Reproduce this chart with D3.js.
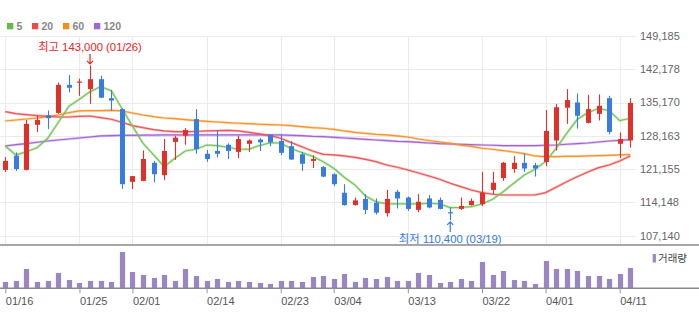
<!DOCTYPE html>
<html><head><meta charset="utf-8">
<script src="https://cdn.jsdelivr.net/npm/d3@7"></script>
<style>
html,body{margin:0;padding:0;background:#fff;}
svg{display:block;}
</style></head>
<body>
<svg id="c" width="699" height="329"></svg>
<script>
const dates = ["01/16","01/17","01/18","01/19","01/22","01/23","01/24","01/25","01/26","01/29","01/30","01/31",
"02/01","02/02","02/05","02/06","02/07","02/08","02/13","02/14","02/15","02/16","02/19","02/20","02/21","02/22","02/23","02/26","02/27","02/28","02/29",
"03/04","03/05","03/06","03/07","03/08","03/11","03/12","03/13","03/14","03/15","03/18","03/19","03/20","03/21","03/22","03/25","03/26","03/27","03/28","03/29",
"04/01","04/02","04/03","04/04","04/05","04/08","04/09","04/11","04/12"];
const open  = [121000,124000,121000,130500,132500,133000,138900,139400,138000,140100,136100,133800,118500,118700,122500,119900,126900,128200,131700,124400,125000,126300,124800,126500,127400,128400,127100,126000,124300,122900,121600,120100,116200,113600,114900,114100,111900,116400,115200,112600,115000,114700,112100,112800,113600,113800,116800,119300,121200,122500,122000,122700,127200,134100,135200,130900,132800,136100,126500,127200];
const high  = [123700,124700,131500,132500,133500,139400,141000,140200,143000,140800,137800,134000,119700,125100,122900,127500,128200,129800,133800,125200,129400,126600,128200,127400,127700,128500,128500,127100,124800,124100,121800,120300,118000,115200,115900,115000,116800,116800,115400,115900,115700,115200,113100,115200,115000,120600,120600,122700,123900,124400,122500,133600,134900,138000,137100,136800,136900,136600,128900,136100];
const low   = [120600,120800,120900,129000,129600,132800,137300,136600,134900,136100,133500,117000,117000,118600,118400,118900,123100,126300,124400,122700,123600,123300,123500,124800,125000,126000,124100,123100,120800,121400,119500,117600,113500,113500,111700,111600,111200,112900,112400,112100,112900,112700,110400,112600,113500,113400,115900,118700,120400,120600,119600,121800,125100,130700,129700,130800,131400,128500,123500,125700];
const close = [122900,121200,130700,131500,131900,138900,138300,139600,140100,136200,135600,118000,119700,123300,120100,125000,127800,129400,125400,123300,124400,125000,127500,127200,126800,126800,124600,123200,122300,123300,119600,118000,113600,114600,112600,112000,114900,115000,112800,114300,113100,112800,112000,113400,114500,116200,118300,122500,122500,121300,121300,129200,134200,135700,132400,133800,134500,129000,127500,135100];
const volume = [190,220,580,190,220,460,250,160,220,220,190,1090,490,400,310,400,220,580,370,220,280,190,220,190,160,130,220,220,190,340,370,280,430,190,310,280,340,220,220,460,400,160,190,280,220,790,400,520,250,220,130,820,580,580,520,370,370,280,430,610];
const ma5   = [126040,124150,124840,125680,127660,130990,134390,135870,137470,138520,137680,133970,130250,126610,124150,121690,123450,124990,125350,126250,126100,125770,125350,125350,126150,126710,126670,125470,124670,123870,122740,121350,119460,117840,115520,114320,113840,113840,113840,113840,113990,113840,113060,113100,113270,113840,114830,116430,118190,119940,121140,122740,125560,128710,131660,133050,133970,133470,131360,131870];
const ma20  = [133260,132840,132630,132420,132290,132140,132140,132290,132350,132000,131660,131030,130310,129890,129470,129200,129050,129050,129090,129200,129260,129340,129200,128920,128570,128210,127660,126740,125890,124990,124290,124150,123940,123660,123240,122740,122040,121560,120990,120360,119730,119030,118190,117480,116780,116220,115880,115730,115730,115730,115730,116220,117350,118530,119580,120570,121480,122040,122890,123940];
const ma60  = [131300,131510,131720,131930,132210,132560,133050,133410,133470,133470,133550,133410,132980,132560,132210,131930,131790,131570,131360,131240,131090,130940,130820,130730,130610,130520,130460,130310,130100,129890,129770,129550,129200,128920,128710,128500,128360,128150,127930,127510,127200,126880,126610,126190,125940,125560,125350,125050,124780,124420,123940,123790,123790,123870,123870,123940,124000,124080,124150,124210];
const ma120 = [126040,126310,126530,126820,127090,127300,127510,127720,127930,128150,128210,128290,128290,128310,128330,128360,128360,128360,128360,128360,128360,128360,128360,128360,128360,128360,128360,128290,128210,128080,128000,127870,127720,127580,127450,127300,127160,127030,126950,126820,126670,126530,126460,126400,126310,126250,126190,126100,126100,126100,126100,126190,126250,126400,126530,126670,126880,127090,127240,127370];
const priceTicks = [149185,142178,135170,128163,121155,114148,107140];
const dateTicks = ["01/16","01/25","02/01","02/14","02/23","03/04","03/13","03/22","04/01","04/11"];
const maNames = ["5","20","60","120"];
const maSeries = [ma5, ma20, ma60, ma120];
const maxInfo = {value:143000, date:"01/26", label:"최고 143,000 (01/26)"};
const minInfo = {value:110400, date:"03/19", label:"최저 110,400 (03/19)"};
const volLabel = "거래량";

const svg = d3.select("#c");
const W = 699;
const x = d3.scalePoint().domain(dates).range([5.3, 630.3]);
const y = d3.scaleLinear().domain([107140, 149185]).range([235.8, 36]);
const yv = d3.scaleLinear().domain([0, 1300]).range([288.3, 245]);

const UP = "#e1302a", DOWN = "#397ce0";
const maColors = ["#74c756", "#ef5454", "#f79226", "#a465d3"];
const legendColors = ["#5fbf45", "#ee4a4a", "#f78c1e", "#a463d6"];
const font = "'Liberation Sans', 'Noto Sans CJK KR', Arial, sans-serif";

// grid
const g = svg.append("g");
g.selectAll("line.h").data(priceTicks).join("line")
  .attr("x1", 0).attr("x2", 636)
  .attr("y1", d => Math.round(y(d)) + 0.5).attr("y2", d => Math.round(y(d)) + 0.5)
  .attr("stroke", "#ebebeb").attr("stroke-width", 1);
g.selectAll("line.v").data(dateTicks).join("line")
  .attr("x1", d => Math.round(x(d)) + 0.5).attr("x2", d => Math.round(x(d)) + 0.5)
  .attr("y1", 36).attr("y2", 245)
  .attr("stroke", "#ebebeb").attr("stroke-width", 1);

// y labels
svg.append("g").selectAll("text").data(priceTicks).join("text")
  .attr("x", 640).attr("y", d => y(d)).attr("dy", "0.35em")
  .attr("font-family", font).attr("font-size", 11).attr("fill", "#666")
  .text(d => d3.format(",")(d));

// MA lines
const lineGen = arr => d3.line().x((d, i) => x(dates[i])).y(d => y(d)).curve(d3.curveLinear)(arr);
const maG = svg.append("g");
[3, 2, 1, 0].forEach(k => {
  maG.append("path").attr("d", lineGen(maSeries[k])).attr("fill", "none")
    .attr("stroke", maColors[k]).attr("stroke-width", 2.6).attr("stroke-opacity", 0.35);
  maG.append("path").attr("d", lineGen(maSeries[k])).attr("fill", "none")
    .attr("stroke", maColors[k]).attr("stroke-width", 1.2);
});

// candles
const cg = svg.append("g");
const bw = 5;
dates.forEach((d, i) => {
  const col = close[i] >= open[i] ? UP : DOWN;
  const cx = Math.round(x(d));
  cg.append("line").attr("x1", cx + 0.5).attr("x2", cx + 0.5)
    .attr("y1", y(high[i])).attr("y2", y(low[i])).attr("stroke", col).attr("stroke-width", 1.1);
  const top = y(Math.max(open[i], close[i])), bot = y(Math.min(open[i], close[i]));
  cg.append("rect").attr("x", cx + 0.5 - bw / 2).attr("width", bw)
    .attr("y", top).attr("height", Math.max(1.2, bot - top)).attr("fill", col);
});

// max / min annotations
const mx = x(maxInfo.date);
svg.append("text").attr("x", mx).attr("y", 51).attr("text-anchor", "middle")
  .attr("font-family", font).attr("font-size", 11.3).attr("fill", "#f0201c").text(maxInfo.label);
svg.append("path").attr("d", `M${mx},54 V${y(maxInfo.value) - 1.5} M${mx - 3},${y(maxInfo.value) - 4.5} L${mx},${y(maxInfo.value) - 1.5} L${mx + 3},${y(maxInfo.value) - 4.5}`)
  .attr("fill", "none").attr("stroke", "#f0201c").attr("stroke-width", 1.2);
const nx = x(minInfo.date);
svg.append("path").attr("d", `M${nx},232 V${y(minInfo.value) + 1.5} M${nx - 3},${y(minInfo.value) + 4.5} L${nx},${y(minInfo.value) + 1.5} L${nx + 3},${y(minInfo.value) + 4.5}`)
  .attr("fill", "none").attr("stroke", "#2f7be5").attr("stroke-width", 1.2);
svg.append("text").attr("x", nx).attr("y", 242.5).attr("text-anchor", "middle")
  .attr("font-family", font).attr("font-size", 11.3).attr("fill", "#2f7be5").text(minInfo.label);

// volume panel
svg.append("line").attr("x1", 0).attr("x2", W).attr("y1", 245).attr("y2", 245)
  .attr("stroke", "#8a8a8a").attr("stroke-width", 1.4);
svg.append("g").selectAll("rect").data(volume).join("rect")
  .attr("x", (d, i) => Math.round(x(dates[i])) + 0.5 - 2.6).attr("width", 5.2)
  .attr("y", d => yv(d)).attr("height", d => yv(0) - yv(d)).attr("fill", "#9a85c5");
const ax = svg.append("g").attr("transform", "translate(0,288.3)")
  .call(d3.axisBottom(x).tickValues(dateTicks).tickSize(5).tickPadding(4));
ax.select(".domain").attr("d", `M0,0H${W}`).attr("stroke", "#8a8a8a").attr("stroke-width", 1.4);
ax.selectAll(".tick line").attr("stroke", "#999");
ax.selectAll(".tick text").attr("text-anchor", "start").attr("font-family", font)
  .attr("font-size", 11).attr("fill", "#555");

// volume legend
svg.append("rect").attr("x", 652.7).attr("y", 254).attr("width", 3.2).attr("height", 8.5).attr("fill", "#9a85c5");
svg.append("text").attr("x", 658).attr("y", 262).attr("font-family", font)
  .attr("font-size", 10.5).attr("fill", "#444").text(volLabel);

// MA legend
const lg = svg.append("g");
const lx = [7, 32, 63, 94];
maNames.forEach((n, k) => {
  lg.append("rect").attr("x", lx[k]).attr("y", 23).attr("width", 6.3).attr("height", 6.3).attr("fill", legendColors[k]);
  lg.append("text").attr("x", lx[k] + 9.5).attr("y", 29.5).attr("font-family", font)
    .attr("font-size", 10.5).attr("font-weight", "bold").attr("fill", "#888").text(n);
});
</script>
</body></html>
